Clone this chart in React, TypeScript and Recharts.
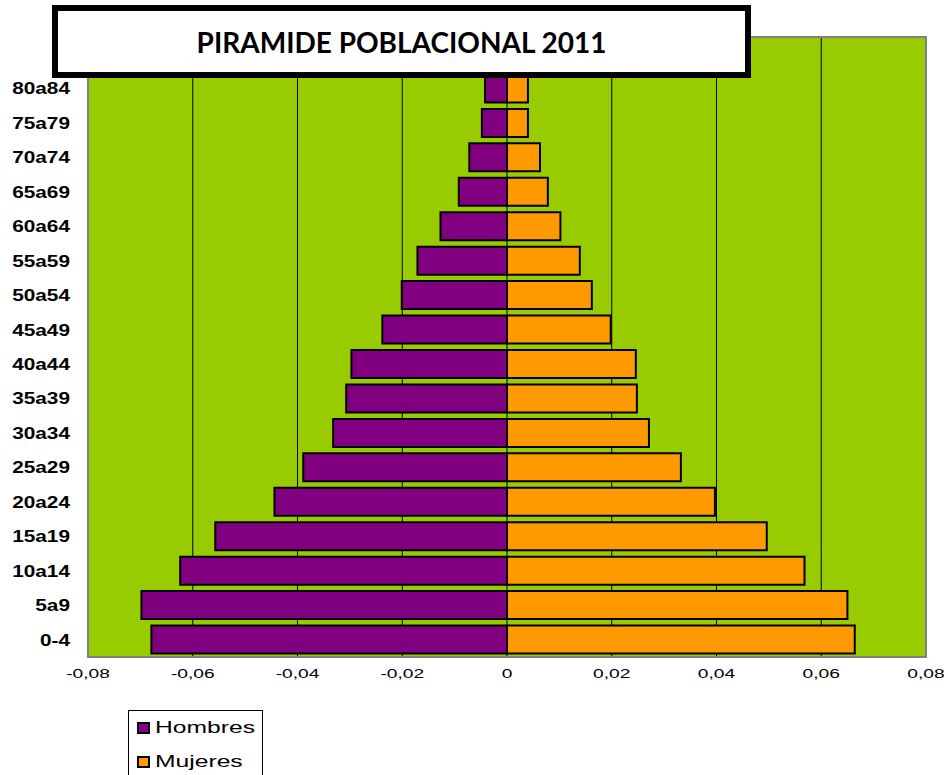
import React from 'react';
import {
  BarChart,
  Bar,
  XAxis,
  YAxis,
  CartesianGrid,
  ReferenceArea,
} from 'recharts';

// age groups from the top of the pyramid down (top slot sits behind the title)
const ageGroups = [
  '', '80a84', '75a79', '70a74', '65a69', '60a64', '55a59', '50a54', '45a49',
  '40a44', '35a39', '30a34', '25a29', '20a24', '15a19', '10a14', '5a9', '0-4',
];

const hombres = [
  0, -0.0042, -0.0048, -0.0072, -0.0092, -0.0127, -0.0171, -0.0201, -0.0238,
  -0.0297, -0.0307, -0.0332, -0.0389, -0.0444, -0.0557, -0.0624, -0.0698, -0.0679,
];

const mujeres = [
  0, 0.004, 0.004, 0.0063, 0.0078, 0.0102, 0.0139, 0.0162, 0.0198,
  0.0246, 0.0248, 0.0271, 0.0332, 0.0397, 0.0496, 0.0568, 0.065, 0.0664,
];

const xTicks = [-0.08, -0.06, -0.04, -0.02, 0, 0.02, 0.04, 0.06, 0.08];

const data = ageGroups.map((age, i) => ({
  age,
  hombres: hombres[i],
  mujeres: mujeres[i],
}));

const fmt = (v: number) =>
  v === 0 ? '0' : v.toFixed(2).replace('.', ',');

const XTick = (props: any) => {
  const { x, y, payload } = props;
  return (
    <g transform={`translate(${x},${y})`}>
      <text
        transform="scale(1.6,1)"
        textAnchor="middle"
        dy="0.71em"
        fontSize={12}
        fontFamily="Liberation Sans, Arial, sans-serif"
        fill="#000"
      >
        {fmt(payload.value)}
      </text>
    </g>
  );
};

const YTick = (props: any) => {
  const { x, y, payload } = props;
  return (
    <g transform={`translate(${x},${y})`}>
      <text
        transform="scale(1.3,1)"
        textAnchor="end"
        dy="0.36em"
        fontSize={16}
        fontWeight="bold"
        fontFamily="Liberation Sans, Arial, sans-serif"
        fill="#000"
      >
        {payload.value}
      </text>
    </g>
  );
};

const legendItems = [
  { label: 'Hombres', color: '#800080' },
  { label: 'Mujeres', color: '#FF9900' },
];

export default function App() {
  return (
    <div
      style={{
        position: 'absolute',
        left: 0,
        top: 0,
        width: 948,
        height: 775,
        overflow: 'hidden',
        background: '#fff',
      }}
    >
      <BarChart
        width={948}
        height={775}
        data={data}
        layout="vertical"
        stackOffset="sign"
        margin={{ top: 37, right: 22, bottom: 88, left: 0 }}
      >
        <CartesianGrid
          horizontal={false}
          stroke="#000"
          strokeWidth={1}
          fill="#99CC00"
          fillOpacity={1}
        />
        <XAxis
          type="number"
          domain={[-0.08, 0.08]}
          ticks={xTicks}
          allowDataOverflow
          height={30}
          axisLine={false}
          tickLine={false}
          tickSize={0}
          tickMargin={12}
          tick={<XTick />}
        />
        <YAxis
          type="category"
          dataKey="age"
          width={88}
          interval={0}
          axisLine={false}
          tickLine={false}
          tickSize={0}
          tickMargin={18}
          tick={<YTick />}
        />
        <Bar
          dataKey="hombres"
          stackId="pop"
          fill="#800080"
          stroke="#000"
          strokeWidth={2}
          barSize={28}
          isAnimationActive={false}
        />
        <Bar
          dataKey="mujeres"
          stackId="pop"
          fill="#FF9900"
          stroke="#000"
          strokeWidth={2}
          barSize={28}
          isAnimationActive={false}
        />
        <ReferenceArea
          x1={-0.08}
          x2={0.08}
          fill="none"
          stroke="#808080"
          strokeWidth={2}
          ifOverflow="visible"
        />
      </BarChart>

      {/* title box */}
      <div
        style={{
          position: 'absolute',
          left: 52,
          top: 5,
          width: 699,
          height: 73,
          boxSizing: 'border-box',
          border: '6px solid #000',
          background: '#fff',
          display: 'flex',
          alignItems: 'center',
          justifyContent: 'center',
          fontFamily: 'Lato, sans-serif',
          fontWeight: 'bold',
          fontSize: 28,
          color: '#000',
        }}
      >
        PIRAMIDE POBLACIONAL 2011
      </div>

      {/* legend box */}
      <div
        style={{
          position: 'absolute',
          left: 128,
          top: 710,
          width: 135,
          height: 80,
          boxSizing: 'border-box',
          border: '1px solid #000',
          background: '#fff',
        }}
      >
        {legendItems.map((item, i) => (
          <div
            key={item.label}
            style={{
              position: 'absolute',
              left: 8,
              top: 8 + i * 34,
              display: 'flex',
              alignItems: 'center',
              height: 18,
            }}
          >
            <div
              style={{
                width: 13,
                height: 12,
                boxSizing: 'border-box',
                border: '2px solid #000',
                background: item.color,
              }}
            />
            <span
              style={{
                marginLeft: 5,
                fontFamily: 'Liberation Sans, Arial, sans-serif',
                fontSize: 17,
                color: '#000',
                display: 'inline-block',
                transform: 'scaleX(1.45)',
                transformOrigin: 'left center',
                whiteSpace: 'nowrap',
              }}
            >
              {item.label}
            </span>
          </div>
        ))}
      </div>
    </div>
  );
}
